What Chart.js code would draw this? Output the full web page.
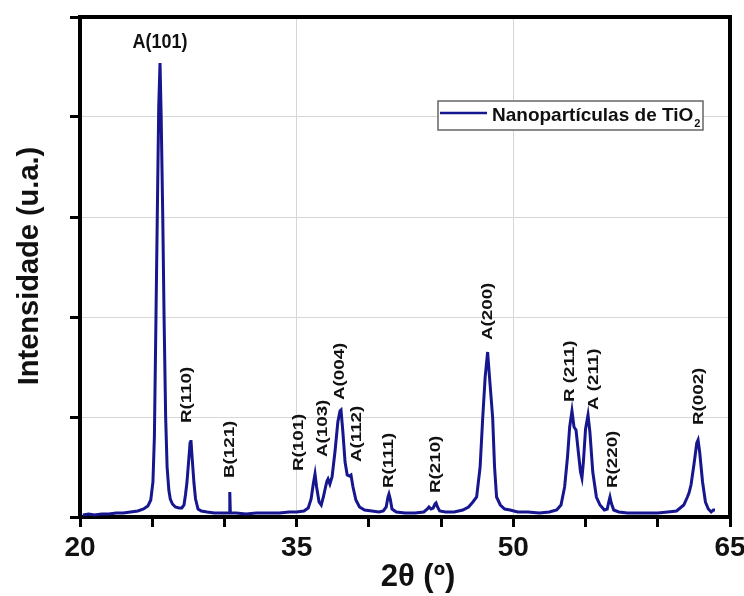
<!DOCTYPE html>
<html>
<head>
<meta charset="utf-8">
<script src="https://cdn.jsdelivr.net/npm/chart.js@4.4.1/dist/chart.umd.min.js"></script>
<style>
  html, body { margin: 0; padding: 0; background: #fff; }
</style>
</head>
<body>
<canvas id="xrdChart" width="744" height="596"></canvas>
<script>
// XRD pattern of TiO2 nanoparticles
const twoTheta = [
  20.2, 20.6, 21.0, 21.5, 22.0, 22.5, 23.0, 23.5, 24.0, 24.4, 24.7, 24.9,
  25.05, 25.15, 25.26, 25.35, 25.45, 25.54, 25.62, 25.73, 25.82, 25.93, 26.03, 26.15,
  26.25, 26.4, 26.6, 26.85, 27.05, 27.2, 27.3, 27.4, 27.5, 27.62, 27.68, 27.76,
  27.89, 28.0, 28.17, 28.4, 28.8, 29.3, 29.8, 30.33, 30.37, 30.41, 30.8, 31.5,
  32.2, 33.0, 33.8, 34.5, 35.0, 35.5, 35.8, 36.0, 36.15, 36.27, 36.38, 36.55,
  36.7, 36.85, 37.0, 37.1, 37.17, 37.3, 37.45, 37.65, 37.85, 38.0, 38.07, 38.2,
  38.35, 38.5, 38.65, 38.76, 38.9, 39.1, 39.35, 39.7, 40.2, 40.7, 41.0, 41.2,
  41.32, 41.39, 41.48, 41.6, 41.9, 42.5, 43.2, 43.8, 44.05, 44.16, 44.3, 44.45,
  44.58, 44.65, 44.75, 44.9, 45.3, 45.9, 46.5, 46.9, 47.2, 47.46, 47.7, 47.88,
  48.05, 48.22, 48.35, 48.57, 48.7, 48.84, 49.1, 49.4, 49.77, 50.3, 51.0, 51.8,
  52.5, 53.0, 53.3, 53.55, 53.75, 53.9, 54.06, 54.2, 54.34, 54.5, 54.65, 54.75,
  54.85, 55.0, 55.17, 55.3, 55.5, 55.75, 56.0, 56.3, 56.5, 56.62, 56.69, 56.78,
  56.95, 57.3, 57.9, 58.6, 59.3, 60.0, 60.7, 61.3, 61.8, 62.05, 62.16, 62.3,
  62.5, 62.7, 62.79, 62.9, 63.1, 63.3, 63.5, 63.7, 63.85, 63.96
];
const intensity = [
  0.02, 0.03, 0.02, 0.03, 0.03, 0.04, 0.04, 0.05, 0.06, 0.08, 0.11, 0.17,
  0.35, 0.8, 2.0, 3.0, 4.1, 4.54, 4.0, 3.0, 2.0, 1.0, 0.5, 0.27,
  0.18, 0.13, 0.10, 0.09, 0.09, 0.12, 0.22, 0.34, 0.52, 0.74, 0.77, 0.6,
  0.34, 0.18, 0.08, 0.06, 0.05, 0.04, 0.04, 0.04, 0.25, 0.04, 0.04, 0.03,
  0.04, 0.04, 0.04, 0.05, 0.05, 0.06, 0.09, 0.18, 0.33, 0.43, 0.3, 0.15,
  0.12, 0.2, 0.3, 0.36, 0.38, 0.33, 0.4, 0.65, 0.95, 1.06, 1.07, 0.85,
  0.55, 0.42, 0.41, 0.42, 0.3, 0.17, 0.1, 0.07, 0.06, 0.05, 0.06, 0.1,
  0.2, 0.23, 0.18, 0.08, 0.05, 0.04, 0.04, 0.05, 0.08, 0.10, 0.08, 0.09,
  0.13, 0.14, 0.1, 0.06, 0.05, 0.05, 0.07, 0.10, 0.15, 0.2, 0.5, 0.99,
  1.4, 1.65, 1.4, 0.99, 0.5, 0.2, 0.12, 0.08, 0.07, 0.05, 0.05, 0.04,
  0.05, 0.07, 0.12, 0.3, 0.6, 0.9, 1.06, 0.9, 0.87, 0.65, 0.45, 0.39,
  0.55, 0.88, 1.02, 0.85, 0.45, 0.2, 0.12, 0.07, 0.08, 0.16, 0.2, 0.14,
  0.07, 0.05, 0.04, 0.04, 0.04, 0.04, 0.05, 0.06, 0.12, 0.2, 0.24, 0.32,
  0.52, 0.74, 0.77, 0.65, 0.35, 0.15, 0.08, 0.05, 0.07, 0.07
];

// peak annotations: text, 2θ position, intensity where the text starts
const peakNames = ['A(101)', 'R(110)', 'B(121)', 'R(101)', 'A(103)', 'A(004)', 'A(112)',
  'R(111)', 'R(210)', 'A(200)', 'R (211)', 'A (211)', 'R(220)', 'R(002)'];
const peakAt = [25.54, 27.41, 30.38, 35.16, 36.82, 38.0, 39.18,
  41.39, 44.65, 48.25, 53.92, 55.58, 56.9, 62.85];
const peakTextBase = [4.65, 0.94, 0.39, 0.46, 0.60, 1.17, 0.55,
  0.29, 0.24, 1.77, 1.15, 1.07, 0.29, 0.92];

const xLabelled = [20, 35, 50, 65];
const seriesName = 'Nanopartículas de TiO';

const lineColor = '#16168e';
const fam = '"Liberation Sans", Arial, Helvetica, sans-serif';

const points = twoTheta.map((t, i) => ({ x: t, y: intensity[i] }));

const decorations = {
  id: 'decorations',
  afterDraw(chart) {
    const { ctx, chartArea: a, scales: { x, y } } = chart;
    ctx.save();

    // frame on top and right
    ctx.strokeStyle = '#000';
    ctx.lineWidth = 4;
    ctx.beginPath();
    ctx.moveTo(a.left - 2, a.top);
    ctx.lineTo(a.right, a.top);
    ctx.lineTo(a.right, a.bottom + 2);
    ctx.stroke();

    // peak labels
    ctx.fillStyle = '#111';
    peakNames.forEach((name, i) => {
      const px = x.getPixelForValue(peakAt[i]);
      const py = y.getPixelForValue(peakTextBase[i]);
      ctx.save();
      ctx.translate(px, py);
      if (i === 0) {
        ctx.font = 'bold 18px ' + fam;
        ctx.textAlign = 'center';
        ctx.textBaseline = 'bottom';
        ctx.scale(1, 1.1);
        ctx.fillText(name, 0, 0);
      } else {
        ctx.font = 'bold 15px ' + fam;
        ctx.rotate(-Math.PI / 2);
        ctx.scale(1.25, 1);
        ctx.textAlign = 'left';
        ctx.textBaseline = 'middle';
        ctx.fillText(name, 0, 0);
      }
      ctx.restore();
    });

    // legend box
    ctx.fillStyle = '#fff';
    ctx.fillRect(438, 101, 265, 29);
    ctx.strokeStyle = '#666';
    ctx.lineWidth = 1.5;
    ctx.strokeRect(438, 101, 265, 29);
    ctx.strokeStyle = lineColor;
    ctx.lineWidth = 2.5;
    ctx.beginPath();
    ctx.moveTo(440, 113);
    ctx.lineTo(487, 113);
    ctx.stroke();
    ctx.fillStyle = '#111';
    ctx.font = 'bold 19px ' + fam;
    ctx.textAlign = 'left';
    ctx.textBaseline = 'alphabetic';
    ctx.fillText(seriesName, 492, 121);
    const w = ctx.measureText(seriesName).width;
    ctx.font = 'bold 11px ' + fam;
    ctx.fillText('2', 492 + w + 1, 127);

    // axis titles
    ctx.font = 'bold 31px ' + fam;
    ctx.textAlign = 'center';
    ctx.textBaseline = 'middle';
    ctx.fillText('2θ (º)', 418, 577);
    ctx.save();
    ctx.translate(30, 266);
    ctx.rotate(-Math.PI / 2);
    ctx.font = 'bold 29px ' + fam;
    ctx.fillText('Intensidade (u.a.)', 0, 0);
    ctx.restore();

    ctx.restore();
  }
};

new Chart(document.getElementById('xrdChart'), {
  type: 'line',
  data: {
    datasets: [{
      label: seriesName + '2',
      data: points,
      borderColor: lineColor,
      borderWidth: 3,
      pointRadius: 0,
      tension: 0,
      fill: false
    }]
  },
  options: {
    responsive: false,
    animation: false,
    layout: { padding: { top: 17, right: 14, left: 0, bottom: 0 } },
    plugins: {
      legend: { display: false },
      tooltip: { enabled: false }
    },
    scales: {
      x: {
        type: 'linear',
        min: 20,
        max: 65,
        ticks: {
          stepSize: 5,
          autoSkip: false,
          maxRotation: 0,
          padding: 4,
          color: '#111',
          font: { family: fam, size: 28, weight: 'bold' },
          callback: v => xLabelled.includes(v) ? String(v) : ''
        },
        grid: {
          color: c => (c.tick && xLabelled.includes(c.tick.value)) ? '#d6d6d6' : 'rgba(0,0,0,0)',
          lineWidth: 1,
          tickLength: 10,
          tickColor: '#000',
          tickWidth: 3
        },
        border: { color: '#000', width: 4 },
        afterFit: s => { s.height = 79; s.paddingLeft = 0; s.paddingRight = 0; }
      },
      y: {
        min: 0,
        max: 5,
        ticks: { stepSize: 1, padding: 0, callback: () => '' },
        grid: {
          color: c => (c.tick && c.tick.value > 0 && c.tick.value < 5) ? '#d6d6d6' : 'rgba(0,0,0,0)',
          lineWidth: 1,
          tickLength: 10,
          tickColor: '#000',
          tickWidth: 3
        },
        border: { color: '#000', width: 4 },
        afterFit: s => { s.width = 80; s.paddingTop = 0; s.paddingBottom = 0; }
      }
    }
  },
  plugins: [decorations]
});
</script>
</body>
</html>
